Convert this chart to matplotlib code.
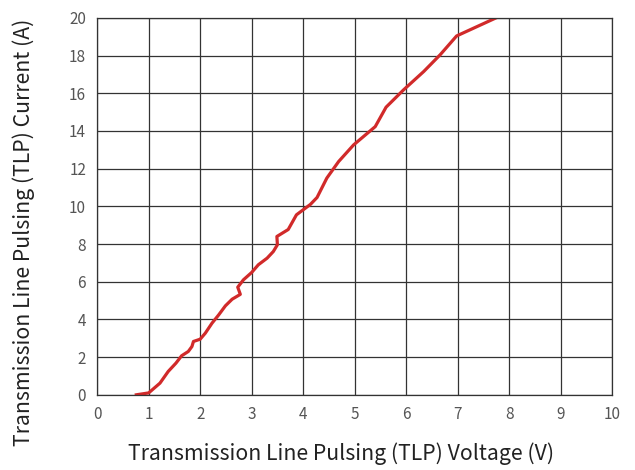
import matplotlib
import numpy as np

matplotlib.use("Agg")
import matplotlib.pyplot as plt

plt.rcParams["font.family"] = ["Noto Sans CJK SC", "DejaVu Sans"]

# TLP I-V curve
voltage = [0.76, 1.00, 1.22, 1.38, 1.53, 1.64, 1.77, 1.84, 1.87, 2.00, 2.10,
           2.23, 2.36, 2.49, 2.62, 2.78, 2.73, 2.84, 3.00, 3.13, 3.30, 3.42,
           3.50, 3.49, 3.71, 3.87, 4.14, 4.27, 4.46, 4.69, 4.98, 5.40, 5.61,
           5.95, 6.34, 6.66, 6.98, 7.73]
current = [0.00, 0.10, 0.62, 1.24, 1.68, 2.07, 2.30, 2.56, 2.83, 2.95, 3.27,
           3.80, 4.24, 4.72, 5.07, 5.33, 5.71, 6.10, 6.49, 6.90, 7.25, 7.60,
           7.96, 8.40, 8.77, 9.55, 10.10, 10.47, 11.50, 12.38, 13.26, 14.23,
           15.26, 16.18, 17.15, 18.04, 19.04, 19.98]

x_ticks = np.arange(0, 11, 1)
y_ticks = np.arange(0, 21, 2)
grid_color = "#333333"

fig = plt.figure(figsize=(6.35, 4.7), dpi=100)
ax = fig.add_axes([0.153, 0.16, 0.811, 0.802])

ax.plot(voltage, current, color="#d12a2a", linewidth=2.3, solid_joinstyle="round")

ax.set_xlim(0, 10)
ax.set_ylim(0, 20)
ax.set_xticks(x_ticks)
ax.set_yticks(y_ticks)
ax.grid(True, color=grid_color, linewidth=0.9)
ax.set_axisbelow(True)
for s in ax.spines.values():
    s.set_color(grid_color)
    s.set_linewidth(0.9)
ax.tick_params(length=0, pad=8, labelsize=11, labelcolor="#555555")

ax.set_xlabel("Transmission Line Pulsing (TLP) Voltage (V)", fontsize=15.3,
              color="#222222")
ax.set_ylabel("Transmission Line Pulsing (TLP) Current (A)", fontsize=15.3,
              color="#222222")
# label spots picked to match the reference (not centred on the axes)
ax.xaxis.set_label_coords(0.474, -0.125)
ax.yaxis.set_label_coords(-0.12, 0.432)

fig.savefig("out.png", dpi=100)
